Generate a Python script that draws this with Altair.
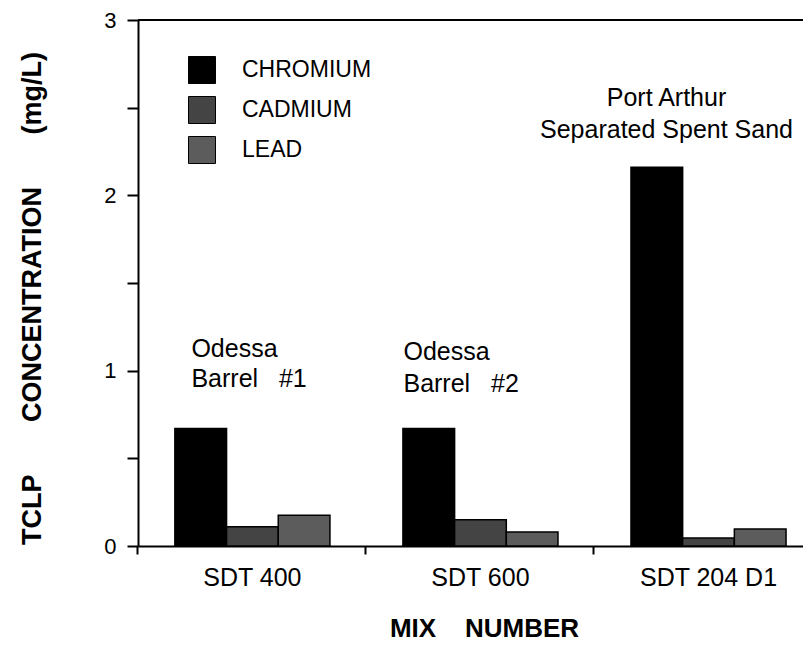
import altair as alt
import pandas as pd

mixes = ["SDT 400", "SDT 600", "SDT 204 D1"]
metals = ["CHROMIUM", "CADMIUM", "LEAD"]
chromium = [0.67, 0.67, 2.16]
cadmium = [0.11, 0.15, 0.045]
lead = [0.175, 0.08, 0.097]
metal_colors = ["#000000", "#444444", "#5c5c5c"]

ann_mix = ["SDT 400", "SDT 400", "SDT 600", "SDT 600", "SDT 204 D1", "SDT 204 D1"]
ann_y = [1.125, 0.95, 1.108, 0.926, 2.557, 2.375]
ann_text = ["Odessa", "Barrel\u00a0\u00a0\u00a0#1", "Odessa", "Barrel\u00a0\u00a0\u00a0#2",
            "Port Arthur", "Separated Spent Sand"]
ann_group = [1, 1, 2, 2, 3, 3]

rows = []
for i, m in enumerate(mixes):
    for metal, vals in zip(metals, [chromium, cadmium, lead]):
        rows.append({"mix": m, "metal": metal, "value": vals[i]})
df = pd.DataFrame(rows)
ann = pd.DataFrame({"mix": ann_mix, "y": ann_y, "text": ann_text, "g": ann_group})

FONT = "Liberation Sans"
SP = "\u00a0"

xscale = alt.Scale(domain=mixes, paddingInner=0.32, paddingOuter=0.118, align=0.685)
yscale = alt.Scale(domain=[0, 3], nice=False)

x_enc = alt.X(
    "mix:N", scale=xscale, sort=mixes,
    axis=alt.Axis(
        title="MIX" + SP * 4 + "NUMBER", titleFont=FONT, titleFontSize=26, titleFontWeight="bold",
        titleX=346, titleY=82, titleBaseline="middle", titleAlign="center",
        labelAngle=0, labelFont=FONT, labelFontSize=25, labelColor="black",
        labelPadding=11, bandPosition=-0.239,
        tickSize=8, tickColor="black", tickWidth=2,
        domainColor="black", domainWidth=2,
    ),
)
y_enc = alt.Y(
    "value:Q", scale=yscale,
    axis=alt.Axis(
        title="TCLP" + SP * 7 + "CONCENTRATION" + SP * 7 + "(mg/L)",
        titleFont=FONT, titleFontSize=27, titleFontWeight="bold",
        titleAngle=270, titleAlign="center", titleBaseline="middle",
        titleX=-106, titleY=278,
        values=[0, 0.5, 1, 1.5, 2, 2.5, 3],
        labelExpr="datum.value % 1 == 0 ? format(datum.value, 'd') : ''",
        labelFont=FONT, labelFontSize=22, labelColor="black", labelPadding=11,
        tickSize=11, tickColor="black", tickWidth=2,
        domainColor="black", domainWidth=2, grid=False,
    ),
)

bars = alt.Chart(df).mark_bar(stroke="black", strokeWidth=1.5).encode(
    x=x_enc,
    xOffset=alt.XOffset("metal:N", sort=metals, scale=alt.Scale(domain=metals, paddingInner=0, paddingOuter=0)),
    y=y_enc,
    color=alt.Color(
        "metal:N", sort=metals,
        scale=alt.Scale(domain=metals, range=metal_colors),
        legend=alt.Legend(
            orient="none", legendX=50, legendY=36, title=None,
            symbolType="square", symbolSize=729, symbolStrokeColor="black",
            symbolStrokeWidth=1, symbolOpacity=1,
            labelFont=FONT, labelFontSize=23, labelColor="black",
            labelOffset=26, rowPadding=8,
        ),
    ),
)

top_line = alt.Chart(pd.DataFrame({"y": [3]})).mark_rule(color="black", strokeWidth=2).encode(
    y=alt.Y("y:Q", scale=yscale)
)

def ann_layer(g, align, dx):
    return alt.Chart(ann).transform_filter(alt.datum.g == g).mark_text(
        font=FONT, fontSize=25, align=align, baseline="middle", dx=dx, color="black"
    ).encode(
        x=alt.X("mix:N", scale=xscale, sort=mixes),
        y=alt.Y("y:Q", scale=yscale),
        text="text:N",
    )

chart = alt.layer(
    bars, top_line,
    ann_layer(1, "left", -61),
    ann_layer(2, "left", -77),
    ann_layer(3, "center", -42),
).properties(
    width=665, height=526,
    autosize=alt.AutoSizeParams(type="none"),
    padding={"left": 130, "top": 12, "right": 0, "bottom": 99},
).configure_view(stroke=None)

chart.save("out.html", embed_options={"renderer": "svg", "actions": False})
